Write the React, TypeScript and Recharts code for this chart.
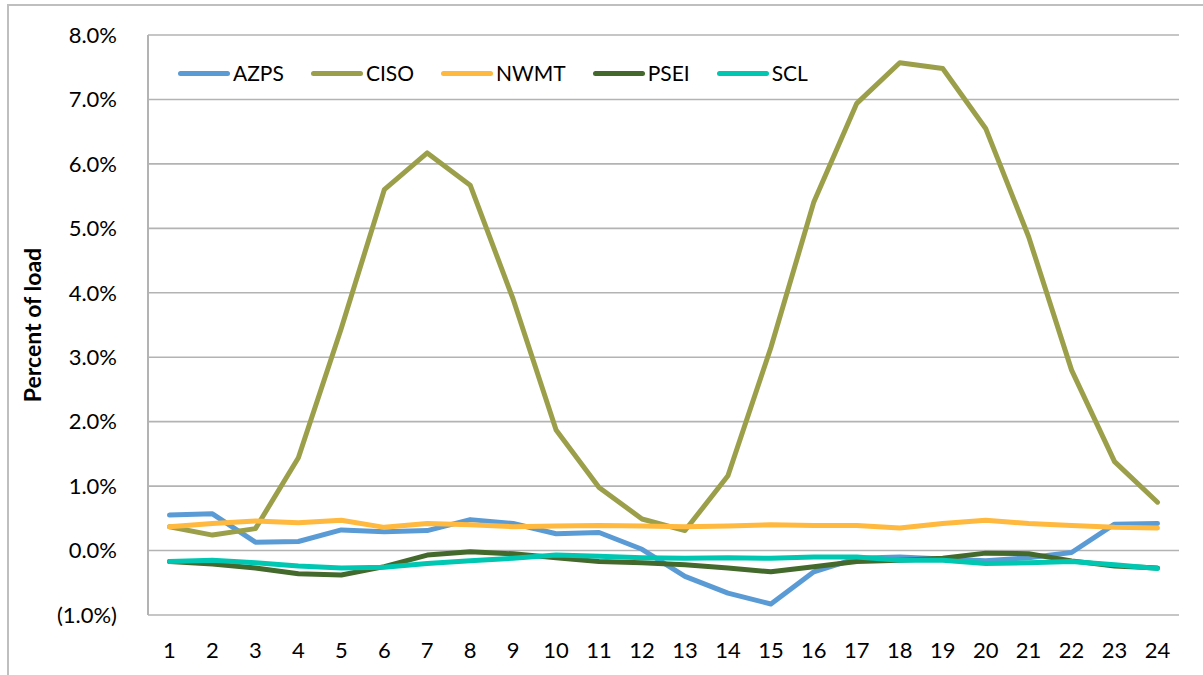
import React from 'react';
import { LineChart, Line, XAxis, YAxis, CartesianGrid } from 'recharts';

const hours = ['1', '2', '3', '4', '5', '6', '7', '8', '9', '10', '11', '12', '13', '14', '15', '16', '17', '18', '19', '20', '21', '22', '23', '24'];

// percent of load, per hour
const azps = [0.55, 0.57, 0.13, 0.14, 0.32, 0.29, 0.31, 0.48, 0.42, 0.26, 0.28, 0.02, -0.4, -0.66, -0.83, -0.33, -0.12, -0.1, -0.13, -0.16, -0.11, -0.03, 0.41, 0.42];
const ciso = [0.37, 0.24, 0.34, 1.44, 3.45, 5.6, 6.17, 5.67, 3.9, 1.87, 0.98, 0.49, 0.31, 1.16, 3.15, 5.41, 6.94, 7.57, 7.48, 6.55, 4.87, 2.8, 1.38, 0.75];
const nwmt = [0.37, 0.42, 0.46, 0.43, 0.47, 0.36, 0.42, 0.4, 0.37, 0.38, 0.39, 0.38, 0.37, 0.38, 0.4, 0.39, 0.39, 0.35, 0.42, 0.47, 0.42, 0.39, 0.36, 0.35];
const psei = [-0.17, -0.21, -0.27, -0.36, -0.38, -0.25, -0.07, -0.02, -0.05, -0.11, -0.17, -0.19, -0.22, -0.27, -0.33, -0.25, -0.17, -0.15, -0.12, -0.04, -0.05, -0.16, -0.24, -0.27];
const scl = [-0.17, -0.15, -0.19, -0.24, -0.27, -0.26, -0.2, -0.16, -0.12, -0.07, -0.09, -0.11, -0.12, -0.11, -0.12, -0.1, -0.1, -0.15, -0.15, -0.2, -0.19, -0.17, -0.22, -0.28];

const yTicks = [-1, 0, 1, 2, 3, 4, 5, 6, 7, 8];

const series = [
  { key: 'AZPS', color: '#5B9BD5' },
  { key: 'CISO', color: '#9C9F4A' },
  { key: 'NWMT', color: '#FFB93E' },
  { key: 'PSEI', color: '#44692C' },
  { key: 'SCL', color: '#00C7B2' },
];

const data = hours.map((h, i) => ({
  hour: h,
  AZPS: azps[i],
  CISO: ciso[i],
  NWMT: nwmt[i],
  PSEI: psei[i],
  SCL: scl[i],
}));

const FONT = 'Lato, "Open Sans", sans-serif';
const GRID = '#B3B3B3';

function fmtPct(v: number) {
  return v < 0 ? `(${Math.abs(v).toFixed(1)}%)` : `${v.toFixed(1)}%`;
}

function LegendRow() {
  return (
    <div
      style={{
        position: 'absolute',
        left: 178,
        top: 60,
        display: 'flex',
        alignItems: 'center',
        gap: 27,
        fontFamily: FONT,
        fontSize: 21,
        lineHeight: '26px',
        color: '#000',
      }}
    >
      {series.map((s) => (
        <div key={s.key} style={{ display: 'flex', alignItems: 'center', gap: 3 }}>
          <div style={{ width: 52, height: 5, borderRadius: 3, background: s.color }} />
          <span>{s.key}</span>
        </div>
      ))}
    </div>
  );
}

export default function App() {
  return (
    <div style={{ position: 'absolute', left: 0, top: 0, width: 1203, height: 675, background: '#fff', overflow: 'hidden' }}>
      {/* outer chart frame */}
      <div
        style={{
          position: 'absolute',
          left: 7,
          top: 4,
          width: 1194,
          height: 700,
          borderTop: '2px solid #BFBFBF',
          borderLeft: '2px solid #BFBFBF',
        }}
      />
      <LineChart
        width={1203}
        height={675}
        data={data}
        margin={{ top: 35, right: 24, bottom: 20, left: 21 }}
        style={{ position: 'absolute', left: 0, top: 0 }}
      >
        <CartesianGrid horizontal vertical={false} stroke={GRID} strokeWidth={1.6} />
        <XAxis
          dataKey="hour"
          padding={{ left: 21.5, right: 21.5 }}
          axisLine={false}
          tickLine={false}
          tickSize={0}
          tickMargin={27}
          height={40}
          interval={0}
          tick={{ fontFamily: FONT, fontSize: 22, fill: '#000' }}
        />
        <YAxis
          domain={[-1, 8]}
          ticks={yTicks}
          width={127}
          axisLine={{ stroke: GRID, strokeWidth: 2 }}
          tickLine={false}
          tickSize={0}
          tickMargin={31}
          tickFormatter={fmtPct}
          tick={{ fontFamily: FONT, fontSize: 22, fill: '#000' }}
          label={{
            value: 'Percent of load',
            angle: -90,
            position: 'insideLeft',
            offset: 12,
            style: { textAnchor: 'middle', fontFamily: FONT, fontSize: 23, fontWeight: 700, fill: '#000' },
          }}
        />
        <YAxis
          yAxisId="frame"
          orientation="right"
          width={0}
          axisLine={{ stroke: GRID, strokeWidth: 2 }}
          tick={false}
          tickLine={false}
        />
        {series.map((s) => (
          <Line
            key={s.key}
            type="linear"
            dataKey={s.key}
            stroke={s.color}
            strokeWidth={5}
            strokeLinecap="round"
            strokeLinejoin="round"
            dot={false}
            activeDot={false}
            isAnimationActive={false}
          />
        ))}
      </LineChart>
      <LegendRow />
    </div>
  );
}
